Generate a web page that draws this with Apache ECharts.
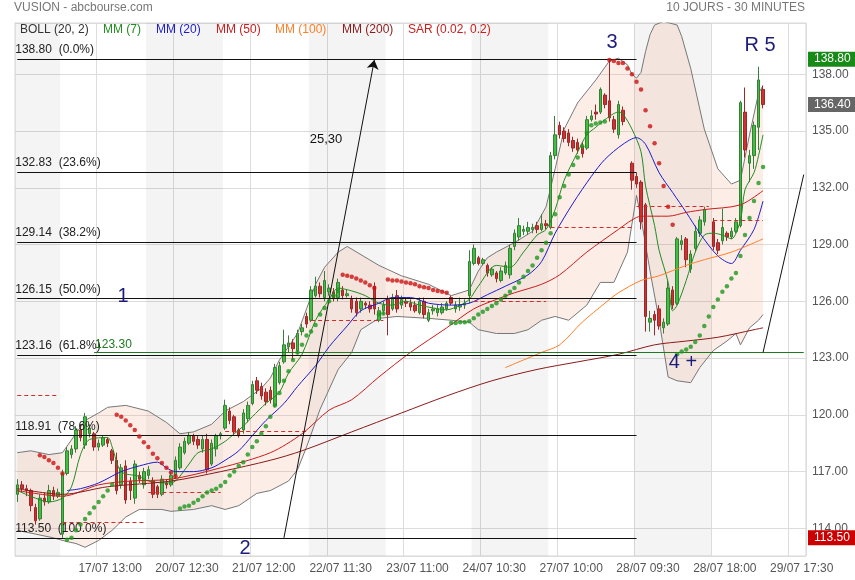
<!DOCTYPE html>
<html><head><meta charset="utf-8">
<script src="https://cdn.jsdelivr.net/npm/echarts@6/dist/echarts.min.js"></script>
<style>html,body{margin:0;padding:0;background:#fff}#c{width:855px;height:580px}</style>
</head><body><div id="c"></div>
<script>
// ---------- DATA ----------
const nSlots = 175;
const tickIdx = [18,35,52,69,86,103,120,137,154,171];
const tickText = ['17/07 13:00','20/07 12:30','21/07 12:00','22/07 11:30','23/07 11:00','24/07 10:30','27/07 10:00','28/07 09:30','28/07 18:00','29/07 17:30'];

// [open, close, low, high]
const candles = [
[115.8,116.3,115.4,116.6],[116.3,116.1,115.9,116.5],[116.1,116.0,115.7,116.3],[116.0,115.2,114.9,116.1],[115.1,114.4,114.2,115.3],
[114.5,115.6,114.4,115.8],[115.6,115.4,115.2,115.9],[115.4,116.0,115.3,116.3],[116.0,115.7,115.5,116.2],[115.7,115.9,115.6,116.1],
[113.7,116.9,113.5,117.1],[116.9,118.1,116.8,118.3],[117.9,118.2,117.7,118.4],[118.2,119.2,118.0,119.4],[119.2,118.8,118.6,119.5],
[118.4,119.9,118.2,120.1],[119.0,119.3,118.8,119.5],[119.0,118.3,118.1,119.1],[118.3,118.5,118.1,118.7],[118.4,118.8,118.3,118.9],
[118.7,118.5,118.3,118.8],[118.1,117.6,117.4,118.2],[117.6,116.0,115.8,118.0],[116.3,117.2,116.1,117.4],[117.3,115.5,115.3,117.6],
[116.5,116.0,115.5,116.7],[115.6,117.4,115.3,117.6],[116.8,116.6,116.4,117.0],[116.3,117.0,116.1,117.2],[116.8,117.1,116.6,117.3],
[116.5,115.8,115.6,116.7],[116.2,115.8,115.6,116.3],[115.8,116.6,115.7,116.8],[116.4,116.3,116.1,116.6],[116.3,116.8,116.2,117.0],
[116.8,117.6,116.6,117.8],[117.2,118.3,117.1,118.5],[118.0,118.6,117.9,118.8],[118.5,118.9,118.4,119.1],[118.9,118.6,118.4,119.0],
[118.7,118.4,118.2,118.9],[118.2,118.7,118.0,118.9],[118.7,117.1,116.9,119.0],[117.4,118.5,117.3,118.7],[118.2,118.9,117.8,119.0],
[118.9,119.0,118.7,119.1],[119.3,120.5,119.2,120.8],[120.2,119.7,119.5,120.4],[119.9,119.1,118.9,120.0],[119.2,118.9,118.8,119.3],
[119.2,120.1,119.0,120.3],[119.8,120.5,119.6,120.7],[120.6,121.6,120.5,121.8],[121.8,121.3,121.1,122.0],[121.5,121.0,120.8,121.7],
[121.2,120.7,120.5,121.4],[121.3,120.8,120.6,121.5],[120.5,122.5,120.4,122.7],[121.7,122.6,121.6,122.8],[122.8,123.7,122.7,124.5],
[123.6,123.8,123.3,124.2],[123.8,123.5,122.9,124.0],[123.4,124.3,123.2,124.5],[124.4,124.6,124.2,124.8],[125.2,124.8,124.6,125.4],
[125.0,126.6,124.9,126.8],[126.3,126.8,126.2,127.3],[126.8,126.4,126.2,127.0],[126.2,127.1,126.0,127.6],[126.5,126.7,126.3,126.9],
[126.5,126.2,126.0,126.7],[126.2,127.0,126.0,127.2],[126.6,126.3,126.1,126.8],[126.3,126.4,126.2,126.6],[126.1,125.6,125.4,126.3],
[126.0,125.4,125.2,126.2],[125.6,126.0,125.4,126.2],[125.9,125.8,125.6,126.0],[125.8,125.6,125.4,126.0],[126.8,125.6,125.3,127.0],
[125.0,125.5,124.9,125.7],[125.5,125.8,125.3,126.0],[126.1,125.3,124.2,126.3],[125.6,126.2,125.5,126.4],[126.3,125.6,125.4,126.6],
[125.8,126.1,125.6,126.3],[126.0,125.9,125.7,126.2],[125.9,125.7,125.5,126.1],[125.8,125.5,125.4,126.0],[125.4,126.0,125.3,126.2],
[126.0,125.3,125.1,126.2],[125.0,125.4,124.9,125.6],[125.5,125.6,125.3,125.8],[125.4,125.6,125.2,125.8],[125.4,125.7,125.3,125.9],
[125.6,125.9,125.5,126.0],[126.2,125.9,125.8,126.3],[125.6,125.8,125.4,126.0],[125.7,125.8,125.5,126.2],[125.8,125.9,125.6,126.1],
[126.3,128.1,125.9,128.7],[128.0,128.8,127.9,129.0],[128.3,128.0,127.9,128.4],[128.0,128.2,127.9,128.3],[127.9,127.5,127.3,128.0],
[127.4,127.7,127.3,127.8],[127.5,127.2,127.0,127.6],[127.1,127.6,127.0,127.8],[127.5,127.9,127.4,128.1],[127.4,128.8,127.2,129.0],
[128.9,129.6,128.7,129.8],[129.4,130.0,129.2,130.4],[129.7,129.8,129.5,130.0],[129.7,129.9,129.5,130.2],[129.8,129.9,129.6,130.1],
[130.0,129.8,129.6,130.2],[129.8,130.1,129.7,130.6],[130.1,130.0,129.8,130.3],[129.9,133.7,129.8,133.9],[133.7,134.8,133.5,135.8],
[135.3,134.8,134.6,135.5],[135.0,134.6,134.4,135.2],[134.9,134.4,134.2,135.1],[134.5,134.1,133.9,134.7],[134.4,134.0,133.8,134.6],
[134.2,133.8,133.6,134.4],[134.1,135.6,134.0,135.8],[135.6,135.8,135.5,136.1],[136.0,135.9,135.6,136.4],[136.0,137.2,135.9,137.3],
[136.9,136.4,136.2,137.0],[136.6,135.7,135.5,138.8],[135.6,135.1,134.9,135.8],[134.8,136.4,134.6,136.6],[136.1,135.5,135.3,136.3],
['-','-','-','-'],[133.3,132.4,131.9,133.4],[132.6,132.2,132.0,132.8],[132.3,130.2,129.8,132.4],[131.1,125.2,124.4,131.2],
[124.9,125.1,124.4,125.5],[125.3,125.0,124.2,125.5],[125.6,124.7,124.5,125.8],[124.6,124.9,124.3,125.1],[124.8,126.7,124.7,127.1],
[126.6,125.8,125.6,126.8],[125.9,129.3,125.8,129.4],[129.0,129.2,128.7,129.5],[129.3,128.2,127.8,129.4],[127.7,128.5,127.5,128.7],
[128.8,129.7,128.6,130.0],[129.6,130.3,129.4,130.5],[130.2,130.85,130.0,131.0],['-','-','-','-'],[130.2,128.9,128.7,130.4],
[129.1,128.7,128.5,129.3],[129.2,129.9,129.0,130.9],[129.6,129.4,129.2,129.7],[129.4,129.7,129.3,129.9],[129.7,130.2,129.6,130.4],
[130.0,136.5,129.9,136.6],[136.0,134.0,133.6,137.3],[133.3,133.7,132.3,134.0],[133.7,135.3,133.0,135.5],[135.2,137.7,134.0,138.4],
[137.2,136.4,136.2,137.4]
];

const mm7 = [[0,116.0],[4,115.6],[7,115.4],[10,115.6],[12,116.2],[14,117.9],[16,118.7],[20,118.8],[21,118.3],[23,117.0],[27,116.75],[29,116.5],[33,116.4],[35,116.5],[38,117.4],[40,118.0],[43,118.2],[46,118.6],[48,119.0],[50,119.4],[52,119.9],[55,120.6],[58,121.2],[60,122.2],[63,123.2],[66,125.0],[69,126.1],[71,126.7],[74,126.55],[77,126.3],[80,125.9],[83,125.8],[86,126.0],[89,125.8],[92,125.65],[95,125.55],[98,125.8],[100,126.1],[102,126.8],[106,127.9],[109,127.8],[112,128.6],[115,129.5],[117,129.8],[119,130.85],[121,132.4],[124,133.9],[126,134.8],[128,135.2],[130,135.6],[133,136.0],[134,135.9],[136,135.1],[138,133.9],[139,132.1],[141,130.0],[142,128.7],[144,127.0],[145,125.5],[146,125.8],[148,127.1],[150,128.6],[152,129.5],[154,129.6],[156,129.5],[158,129.3],[160,130.3],[161,131.9],[163,132.8],[164,133.7],[165,134.8]];
const mm20 = [[11,116.0],[14,116.1],[18,116.4],[23,117.0],[27,117.3],[31,117.5],[33,117.2],[35,117.0],[39,117.0],[43,117.2],[46,117.6],[49,118.1],[52,118.9],[55,119.7],[59,120.6],[62,121.5],[66,122.6],[69,123.6],[73,124.7],[76,125.5],[80,125.9],[83,126.2],[87,126.2],[91,125.9],[96,125.8],[100,125.9],[104,126.35],[108,126.8],[113,127.4],[116,128.1],[119,129.6],[123,131.2],[127,132.6],[130,133.5],[134,134.3],[137,134.65],[139,134.3],[142,132.8],[145,131.75],[148,130.7],[151,129.6],[155,128.4],[158,128.0],[160,128.7],[163,129.8],[165,131.3]];
const mm50 = [[0,116.0],[10,115.7],[18,116.3],[25,116.5],[34,116.6],[45,117.2],[56,118.0],[63,119.0],[69,120.25],[74,120.8],[80,122.0],[87,123.3],[95,124.6],[101,125.6],[106,126.1],[110,126.45],[116,126.9],[120,127.4],[126,128.6],[133,129.8],[136,130.3],[138,130.5],[144,130.5],[148,130.7],[152,130.85],[160,131.1],[165,131.85]];
const mm100 = [[108,122.5],[112,122.9],[116,123.3],[120,123.7],[125,124.9],[130,125.9],[133,126.45],[138,127.1],[142,127.35],[148,127.9],[152,128.2],[158,128.6],[165,129.3]];
const mm200 = [[0,116.1],[10,115.8],[20,116.2],[34,116.5],[45,117.0],[56,117.6],[63,118.1],[74,119.1],[85,120.1],[95,121.0],[105,121.8],[115,122.4],[124,122.8],[133,123.2],[141,123.7],[148,123.9],[155,124.1],[163,124.5],[165,124.6]];

const bollUp = [[0,118.0],[3,118.1],[7,117.9],[10,118.0],[15,119.7],[18,120.1],[20,120.4],[24,120.5],[29,120.2],[33,119.6],[36,119.0],[39,119.1],[43,119.5],[46,120.2],[50,120.7],[54,121.4],[56,121.95],[58,122.9],[60,123.6],[62,124.3],[64,125.6],[66,126.9],[68,127.8],[71,128.6],[73,128.9],[80,127.9],[85,127.35],[91,126.9],[96,126.3],[100,126.6],[102,127.6],[104,128.3],[106,128.6],[110,129.1],[114,129.7],[117,131.0],[119,133.0],[121,135.1],[124,136.5],[128,137.7],[131,138.7],[133,138.85],[135,138.5],[136,138.0],[137,137.8],[138,138.1],[139,139.2],[140,140.1],[141,140.6],[143,140.8],[146,140.6],[147,140.0],[149,138.3],[152,135.1],[155,133.0],[158,132.2],[160,132.4],[162,134.8],[164,137.0],[165,137.4]];
const bollLow = [[0,113.9],[4,113.7],[8,113.5],[11,113.3],[13,113.2],[15,113.0],[18,113.36],[21,113.9],[24,114.6],[27,115.0],[32,115.0],[34,114.9],[39,115.0],[43,115.2],[46,115.0],[49,115.2],[53,115.85],[56,116.0],[60,116.5],[62,117.1],[64,118.3],[67,120.3],[71,122.4],[74,123.3],[76,124.5],[80,125.1],[84,125.2],[91,125.1],[96,125.0],[100,124.9],[101,124.7],[102,124.5],[106,124.3],[110,124.3],[113,124.5],[116,125.0],[119,125.2],[122,125.0],[126,125.8],[129,127.0],[132,127.0],[135,128.6],[137,131.6],[138,130.4],[140,127.6],[142,125.0],[144,122.0],[146,121.8],[149,121.7],[151,122.5],[154,123.4],[157,123.9],[159,124.3],[160,123.7],[162,124.6],[164,125.0],[165,125.3]];

const sarRed = [[5,117.87],[6,117.77],[7,117.6],[8,117.45],[9,117.2],[10,116.9],
[22,120.0],[23,119.9],[24,119.7],[25,119.45],[26,119.2],[27,118.85],[28,118.55],[29,118.3],[30,117.95],[31,117.7],[32,117.45],[33,117.2],[34,116.95],[35,116.75],
[72,127.4],[73,127.35],[74,127.3],[75,127.2],[76,127.1],[77,127.0],[78,126.85],[79,126.7],
[82,127.15],[83,127.1],[84,127.1],[85,127.05],[86,127.0],[87,126.95],[88,126.9],[89,126.8],[90,126.75],[91,126.7],[92,126.6],[93,126.55],[94,126.5],[95,126.45],
[131,138.75],[132,138.7],[133,138.6],[134,138.6],[135,138.3],[136,138.0],[137,137.6],[138,137.2],[139,136.1],[140,135.25],[141,134.35],[142,133.3],[143,132.1],[144,131.0],[145,130.05]];
const sarGreen = [[11,113.4],[12,113.5],[13,113.9],[14,114.2],[15,114.5],[16,114.8],[17,115.1],[18,115.4],[19,115.7],[20,116.0],[21,116.3],
[36,115.05],[37,115.15],[38,115.2],[39,115.35],[40,115.5],[41,115.7],[42,115.9],[43,116.0],[44,116.1],[45,116.25],[46,116.45],[47,116.8],[48,117.0],[49,117.3],[50,117.5],[51,117.9],[52,118.3],[53,118.6],[54,119.0],[55,119.4],[56,119.9],[57,120.5],[58,121.15],[59,121.8],[60,122.3],[61,122.9],[62,123.3],[63,123.7],[64,124.2],[65,124.4],[66,124.75],[67,125.3],[68,125.65],[69,126.0],[70,126.3],[71,126.55],
[80,125.3],[81,125.35],
[96,124.85],[97,124.85],[98,124.9],[99,124.9],[100,124.95],[101,125.1],[102,125.3],[103,125.45],[104,125.6],[105,125.75],[106,125.9],[107,126.1],[108,126.3],[109,126.5],[110,126.7],[111,127.0],[112,127.3],[113,127.6],[114,127.9],[115,128.3],[116,128.7],[117,129.1],[118,129.6],[119,130.6],[120,131.5],[121,132.1],[122,132.7],[123,133.2],[124,133.6],[125,134.2],[126,134.9],[127,135.3],[128,135.4],[129,135.45],[130,135.5],
[146,123.2],[147,123.35],[148,123.45],[149,123.6],[150,123.85],[151,124.2],[152,124.7],[153,125.2],[154,125.7],[155,126.1],[156,126.5],[157,126.8],[158,127.2],[159,127.5],[160,128.4],[161,129.5],[162,130.4],[163,131.3],[164,132.25],[165,133.1]];

const fibVals = [138.80,132.83,129.14,126.15,123.16,118.91,113.50];
const fibPct = ['0.0%','23.6%','38.2%','50.0%','61.8%','78.6%','100.0%'];
const fibEnd = 137;
const dayShade = [[0,9],[29,45],[65,81],[101,117],[137,153]];
const refLines = [[0,9,121.05],[10,28,114.32],[29,45,115.92],[46,64,119.12],[65,81,125.01],[101,117,126.02],[118,136,129.93],[137,153,131.04],[154,165,130.30]];
const supportVal = 123.30, supportStart = 17;
const highVal = 138.80, lastVal = 136.40, lowVal = 113.50;
const arrowLine = [[59,113.5],[79,138.75]];
const trendLine = [[165,123.3],[174,132.7]];

// ---------- CHART ----------
const FONT = '"Liberation Sans", Arial, sans-serif';
const cats = Array.from({length:nSlots}, (_, i) => String(i));
const tickMap = {}; tickIdx.forEach((k, j) => { tickMap[k] = tickText[j]; });

const markData = [];
fibVals.forEach((v, j) => {
  markData.push([
    {coord:[0, v], lineStyle:{color:'#111', width:1, type:'solid'},
     label:{show:true, position:'insideStartTop', distance:[-2, 3], formatter: v.toFixed(2) + '  (' + fibPct[j] + ')', color:'#222', fontSize:12, fontFamily:FONT}},
    {coord:[fibEnd, v]}
  ]);
});
refLines.forEach(r => {
  markData.push([{coord:[r[0], r[2]], lineStyle:{color:'#d42a2a', width:1, type:[4,3]}}, {coord:[r[1], r[2]]}]);
});
markData.push([
  {coord:[supportStart, supportVal], lineStyle:{color:'#1f7a1f', width:1, type:'solid'},
   label:{show:true, position:'insideStartTop', distance:[1, 2], formatter: supportVal.toFixed(2), color:'#1f7a1f', fontSize:12, fontFamily:FONT}},
  {coord:[nSlots - 1, supportVal]}
]);
markData.push([{coord:arrowLine[0], symbol:'none', lineStyle:{color:'#111', width:1, type:'solid'}}, {coord:arrowLine[1], symbol:'arrow', symbolSize:9}]);
markData.push([{coord:trendLine[0], lineStyle:{color:'#111', width:1, type:'solid'}}, {coord:trendLine[1]}]);

const boxData = [[highVal,'#178a17'],[lastVal,'#666666'],[lowVal,'#cc0000']].map(b => ({
  yAxis:b[0], lineStyle:{color:'rgba(255,255,255,0)', width:0},
  label:{show:true, position:'end', distance:2, formatter:b[0].toFixed(2), color:'#fff', backgroundColor:b[1], padding:[2,6,1,6], fontSize:12, fontFamily:FONT}
}));

const legendItems = [['BOLL (20, 2)','#333',20],['MM (7)','#228b22',103],['MM (20)','#1c1ccc',156],['MM (50)','#cc1c1c',216],['MM (100)','#ff7f27',275],['MM (200)','#8b1a1a',342],['SAR (0.02, 0.2)','#cc1c1c',408]];
const graphics = [
  {type:'text', x:14, y:8, style:{text:'VUSION - abcbourse.com', fill:'#777', font:'12px ' + FONT, align:'left', verticalAlign:'middle'}},
  {type:'text', x:805, y:8, style:{text:'10 JOURS - 30 MINUTES', fill:'#777', font:'12px ' + FONT, align:'right', verticalAlign:'middle'}}
];
legendItems.forEach(l => graphics.push({type:'text', x:l[2], y:30, z:10, style:{text:l[0], fill:l[1], font:'12px ' + FONT, align:'left', verticalAlign:'middle'}}));
const notes = [['1',123,296],['2',245,548],['3',612,42],['R 5',760,45],['4 +',683,362]];
notes.forEach(n => graphics.push({type:'text', x:n[1], y:n[2], z:10, style:{text:n[0], fill:'#1c1c7a', font:'20px ' + FONT, align:'center', verticalAlign:'middle'}}));
graphics.push({type:'text', x:326, y:139, z:10, style:{text:'25,30', fill:'#111', font:'13px ' + FONT, align:'center', verticalAlign:'middle'}});

const lineS = (name, data, color) => ({type:'line', name, data, showSymbol:false, symbol:'none', smooth:0.3, z:4, silent:true,
  lineStyle:{color, width:1}, clip:true});

const option = {
  animation:false,
  backgroundColor:'#ffffff',
  textStyle:{fontFamily:FONT},
  grid:{left:15, right:49, top:23, bottom:24, show:true, borderColor:'#d6d6d6', borderWidth:1},
  xAxis:{type:'category', data:cats, boundaryGap:true,
    axisLine:{show:false}, axisTick:{show:false},
    axisLabel:{interval:(i) => tickMap[i] !== undefined, formatter:(v, i) => tickMap[i] || '', color:'#555', fontSize:12, margin:7, padding:[0,0,0,23], fontFamily:FONT},
    splitLine:{show:true, interval:(i) => tickMap[i] !== undefined, lineStyle:{color:'#dcdcdc', width:1}}},
  yAxis:{type:'value', position:'right', min:112.54, max:140.71, splitNumber:9, minInterval:3, maxInterval:3,
    axisLine:{show:false}, axisTick:{show:false},
    axisLabel:{color:'#555', fontSize:12, margin:6, padding:[0,0,5,0], fontFamily:FONT,
      formatter:(v) => Math.abs(v / 3 - Math.round(v / 3)) < 1e-6 ? v.toFixed(2) : ''},
    splitLine:{show:true, lineStyle:{color:'#dcdcdc', width:1}}},
  graphic:graphics,
  series:[
    {type:'custom', z:0, silent:true, clip:true, data:dayShade,
      renderItem:(params, api) => {
        const cs = params.coordSys; const bw = api.size([1, 0])[0];
        const x0 = api.coord([api.value(0), 120])[0] - bw / 2;
        const x1 = api.coord([api.value(1), 120])[0] + bw / 2;
        return {type:'rect', shape:{x:x0, y:cs.y, width:x1 - x0, height:cs.height}, style:{fill:'rgba(0,0,0,0.045)'}};
      }},
    {type:'custom', z:1, silent:true, clip:true, data:[[0, 120]],
      renderItem:(params, api) => {
        const pts = bollUp.map(p => api.coord(p)).concat(bollLow.slice().reverse().map(p => api.coord(p)));
        return {type:'polygon', shape:{points:pts}, style:{fill:'rgba(240,160,120,0.18)'}};
      }},
    {type:'line', data:bollUp, showSymbol:false, symbol:'none', z:2, silent:true, lineStyle:{color:'#777', width:1}},
    {type:'line', data:bollLow, showSymbol:false, symbol:'none', z:2, silent:true, lineStyle:{color:'#777', width:1}},
    {type:'candlestick', data:candles, barWidth:3, z:3, silent:true,
      itemStyle:{color:'#3cc23c', color0:'#d03030', borderColor:'#3a7d3a', borderColor0:'#9a2a2a', borderWidth:1},
      markLine:{silent:true, animation:false, symbol:['none','none'], precision:2,
        label:{show:false}, lineStyle:{type:'solid'}, data:markData}},
    {type:'line', data:[[0,120]], showSymbol:false, symbol:'none', z:6, silent:true, lineStyle:{opacity:0},
      markLine:{silent:true, animation:false, symbol:['none','none'], label:{show:true}, data:boxData}},
    lineS('MM (7)', mm7, '#228b22'),
    lineS('MM (20)', mm20, '#1c1ccc'),
    lineS('MM (50)', mm50, '#cc1c1c'),
    lineS('MM (100)', mm100, '#ff7f27'),
    lineS('MM (200)', mm200, '#8b1a1a'),
    {type:'scatter', data:sarRed, symbolSize:4.5, z:5, silent:true, itemStyle:{color:'#cc1111'}},
    {type:'scatter', data:sarGreen, symbolSize:4.5, z:5, silent:true, itemStyle:{color:'#1e961e'}}
  ]
};
const chart = echarts.init(document.getElementById('c'), null, {renderer:'canvas'});
chart.setOption(option);
</script>
</body></html>
